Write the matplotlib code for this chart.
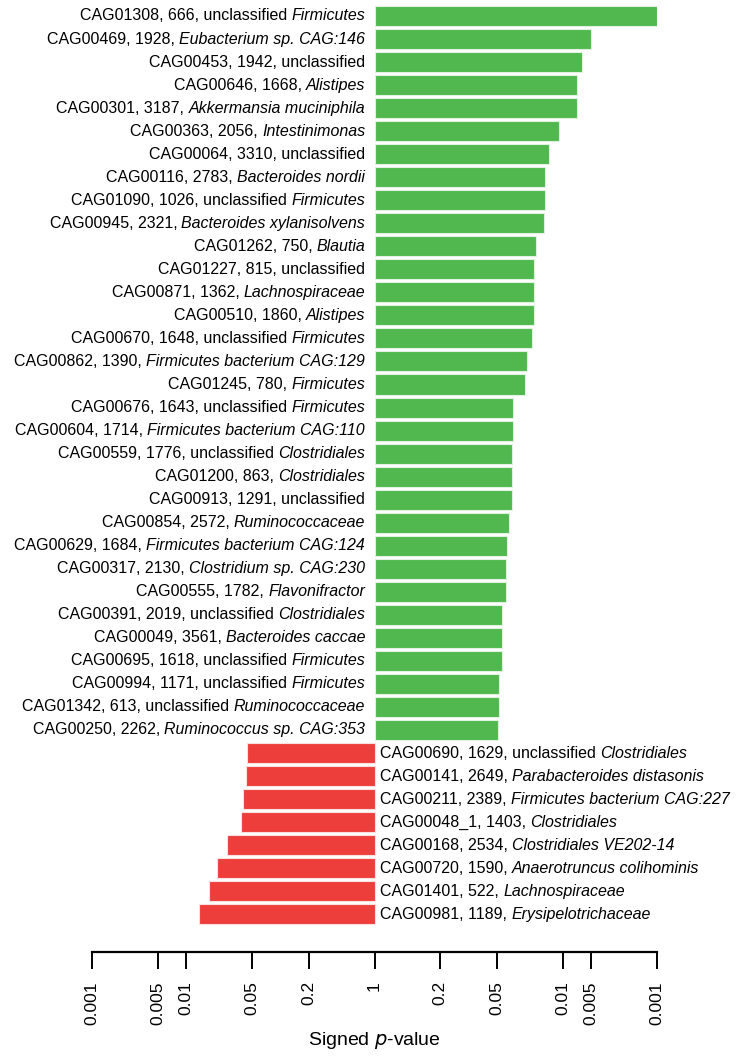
import matplotlib
matplotlib.use("Agg")
import matplotlib.pyplot as plt
import numpy as np

plt.rcParams['font.family'] = ['Liberation Sans', 'DejaVu Sans']

# CAG ids, sizes, roman part of taxon and italic part of taxon (top to bottom)
up_ids = ["CAG01308", "CAG00469", "CAG00453", "CAG00646", "CAG00301", "CAG00363",
          "CAG00064", "CAG00116", "CAG01090", "CAG00945", "CAG01262", "CAG01227",
          "CAG00871", "CAG00510", "CAG00670", "CAG00862", "CAG01245", "CAG00676",
          "CAG00604", "CAG00559", "CAG01200", "CAG00913", "CAG00854", "CAG00629",
          "CAG00317", "CAG00555", "CAG00391", "CAG00049", "CAG00695", "CAG00994",
          "CAG01342", "CAG00250"]
up_sizes = [666, 1928, 1942, 1668, 3187, 2056, 3310, 2783, 1026, 2321, 750, 815,
            1362, 1860, 1648, 1390, 780, 1643, 1714, 1776, 863, 1291, 2572, 1684,
            2130, 1782, 2019, 3561, 1618, 1171, 613, 2262]
up_rom = ["unclassified", "", "unclassified", "", "", "", "unclassified", "",
          "unclassified", "", "", "unclassified", "", "", "unclassified", "", "",
          "unclassified", "", "unclassified", "", "unclassified", "", "", "", "",
          "unclassified", "", "unclassified", "unclassified", "unclassified", ""]
up_ital = ["Firmicutes", "Eubacterium sp. CAG:146", "", "Alistipes",
           "Akkermansia muciniphila", "Intestinimonas", "", "Bacteroides nordii",
           "Firmicutes", "Bacteroides xylanisolvens", "Blautia", "", "Lachnospiraceae",
           "Alistipes", "Firmicutes", "Firmicutes bacterium CAG:129", "Firmicutes",
           "Firmicutes", "Firmicutes bacterium CAG:110", "Clostridiales", "Clostridiales",
           "", "Ruminococcaceae", "Firmicutes bacterium CAG:124", "Clostridium sp. CAG:230",
           "Flavonifractor", "Clostridiales", "Bacteroides caccae", "Firmicutes",
           "Firmicutes", "Ruminococcaceae", "Ruminococcus sp. CAG:353"]
up_p = [0.001, 0.005, 0.0062, 0.007, 0.007, 0.0111, 0.014, 0.0155, 0.0155, 0.016,
        0.0194, 0.02, 0.02, 0.02, 0.0214, 0.0243, 0.0251, 0.034, 0.034, 0.035, 0.035,
        0.035, 0.0375, 0.0387, 0.04, 0.04, 0.0442, 0.0442, 0.0442, 0.0475, 0.0475, 0.049]

down_ids = ["CAG00690", "CAG00141", "CAG00211", "CAG00048_1", "CAG00168",
            "CAG00720", "CAG01401", "CAG00981"]
down_sizes = [1629, 2649, 2389, 1403, 2534, 1590, 522, 1189]
down_rom = ["unclassified", "", "", "", "", "", "", ""]
down_ital = ["Clostridiales", "Parabacteroides distasonis", "Firmicutes bacterium CAG:227",
             "Clostridiales", "Clostridiales VE202-14", "Anaerotruncus colihominis",
             "Lachnospiraceae", "Erysipelotrichaceae"]
down_p = [0.0445, 0.043, 0.0404, 0.0378, 0.0271, 0.021, 0.0173, 0.0136]

tick_p = [0.001, 0.005, 0.01, 0.05, 0.2, 1, 0.2, 0.05, 0.01, 0.005, 0.001]
tick_sign = [-1, -1, -1, -1, -1, 1, 1, 1, 1, 1, 1]
tick_labels = ["0.001", "0.005", "0.01", "0.05", "0.2", "1", "0.2", "0.05", "0.01", "0.005", "0.001"]

green = "#50B84E"
red = "#EE3E3C"
fs = 11.5

up_x = -np.log10(up_p)
down_x = np.log10(down_p)
n_up = len(up_x)
y_up = np.arange(n_up)
y_down = np.arange(n_up, n_up + len(down_x))

fig = plt.figure(figsize=(7.41, 10.59), dpi=100)
ax = fig.add_axes([92 / 741, 1 - 952 / 1059, 565 / 741, 948 / 1059])

ax.barh(y_up, up_x, height=0.87, color=green, edgecolor="#dff2df", linewidth=0.8)
ax.barh(y_down, down_x, height=0.87, color=red, edgecolor="#fbe0e0", linewidth=0.8)

# labels: roman part + italic part
for i in range(n_up):
    rom = up_ids[i] + ", " + str(up_sizes[i]) + ","
    if up_rom[i]:
        rom += " " + up_rom[i]
    if up_ital[i]:
        t = ax.text(-0.1, y_up[i], up_ital[i], style="italic", ha="right", va="center",
                    fontsize=fs, clip_on=False)
        ax.annotate(rom, xy=(0, 0), xycoords=t, xytext=(-3, 0), textcoords="offset points",
                    ha="right", va="bottom", fontsize=fs, annotation_clip=False)
    else:
        ax.text(-0.1, y_up[i], rom, ha="right", va="center", fontsize=fs, clip_on=False)

for i in range(len(down_x)):
    rom = down_ids[i] + ", " + str(down_sizes[i]) + ","
    if down_rom[i]:
        rom += " " + down_rom[i]
    t = ax.text(0.06, y_down[i], rom, ha="left", va="center", fontsize=fs, clip_on=False)
    ax.annotate(down_ital[i], xy=(1, 0), xycoords=t, xytext=(3, 0), textcoords="offset points",
                ha="left", va="bottom", fontsize=fs, style="italic", annotation_clip=False)

ax.set_xlim(-3, 3)
ax.set_ylim(40.64, -0.52)
ticks = [s * -np.log10(p) if p != 1 else 0 for s, p in zip(tick_sign, tick_p)]
ax.set_xticks(ticks)
ax.set_xticklabels(tick_labels, rotation=90, fontsize=12.5)
ax.set_yticks([])
for s in ["left", "right", "top"]:
    ax.spines[s].set_visible(False)
ax.spines["bottom"].set_linewidth(1.6)
ax.tick_params(axis="x", length=12, width=1.4, pad=9)
ax.set_xlabel("Signed $p$-value", fontsize=14, labelpad=4)

fig.savefig("out.png", dpi=100)
